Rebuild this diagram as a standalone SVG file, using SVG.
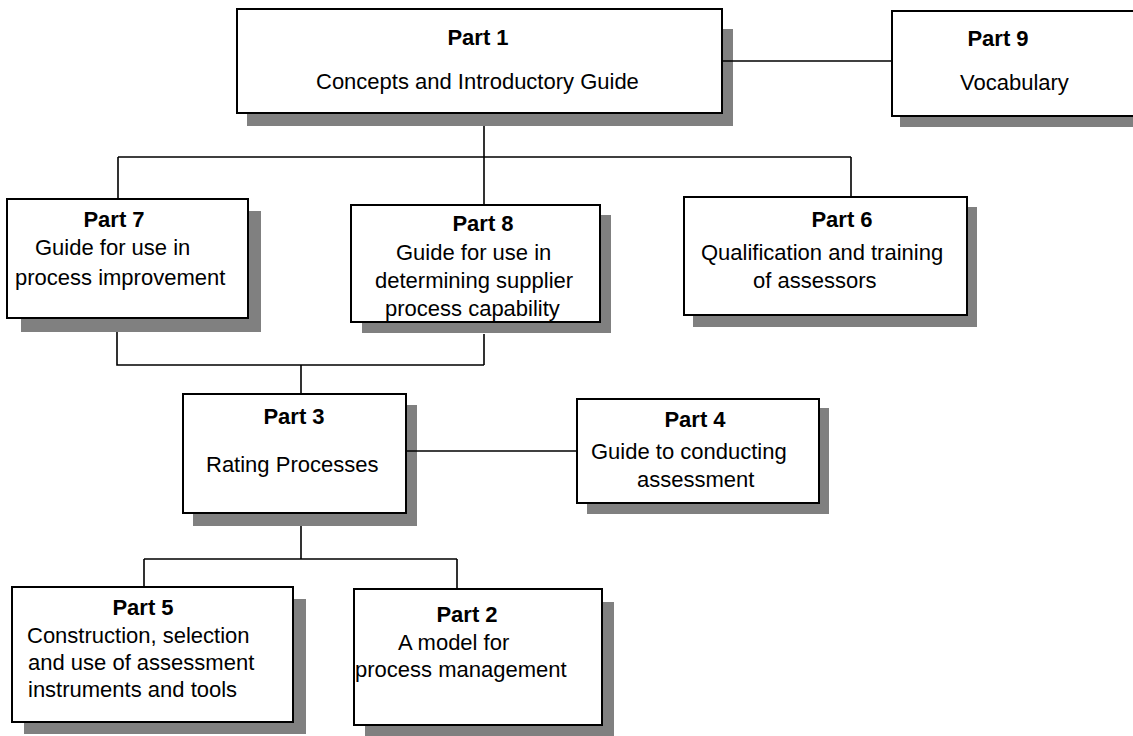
<svg xmlns="http://www.w3.org/2000/svg" width="1133" height="736" viewBox="0 0 1133 736">
<style>
.sh{fill:#808080;stroke:none}
.bx{fill:#fff;stroke:#000;stroke-width:2}
.t{font-family:"Liberation Sans",Arial,sans-serif;font-size:22px;fill:#000}
.b{font-weight:bold;text-anchor:middle}
.c{fill:none;stroke:#000;stroke-width:1.6}
</style>
<rect width="1133" height="736" fill="#fff"/>
<g id="shadows">
<rect class="sh" x="247" y="29" width="486" height="97"/>
<rect class="sh" x="900" y="24" width="260" height="103"/>
<rect class="sh" x="21" y="211" width="240" height="121"/>
<rect class="sh" x="362" y="215" width="249" height="118"/>
<rect class="sh" x="693" y="207" width="284" height="120"/>
<rect class="sh" x="193" y="405" width="224" height="121"/>
<rect class="sh" x="587" y="408" width="242" height="106"/>
<rect class="sh" x="24" y="599" width="282" height="135"/>
<rect class="sh" x="365" y="602" width="249" height="135"/>
</g>
<g id="connectors">
<path class="c" d="M722 61H892"/>
<path class="c" d="M484 126V157M118 157H851M118 157V199M484 157V205M851 157V197"/>
<path class="c" d="M117 332V365H484M484 334V365M301 365V394"/>
<path class="c" d="M406 451H577"/>
<path class="c" d="M301 526V559M144 559H457M144 559V587M457 559V589"/>
</g>
<g id="part1">
<rect class="bx" x="237" y="9" width="485" height="104"/>
<text class="t b" x="478" y="45">Part 1</text>
<text class="t" x="316" y="89">Concepts and Introductory Guide</text>
</g>
<g id="part9">
<rect class="bx" x="892" y="11" width="260" height="105"/>
<text class="t b" x="998" y="46">Part 9</text>
<text class="t" x="960" y="90">Vocabulary</text>
</g>
<g id="part7">
<rect class="bx" x="7" y="199" width="241" height="119"/>
<text class="t b" x="114" y="227">Part 7</text>
<text class="t" x="35" y="255">Guide for use in</text>
<text class="t" x="15" y="285">process improvement</text>
</g>
<g id="part8">
<rect class="bx" x="351" y="205" width="249" height="117"/>
<text class="t b" x="483" y="231">Part 8</text>
<text class="t" x="396" y="260">Guide for use in</text>
<text class="t" x="375" y="288">determining supplier</text>
<text class="t" x="385" y="316">process capability</text>
</g>
<g id="part6">
<rect class="bx" x="684" y="197" width="283" height="118"/>
<text class="t b" x="842" y="227">Part 6</text>
<text class="t" x="701" y="260">Qualification and training</text>
<text class="t" x="753" y="288">of assessors</text>
</g>
<g id="part3">
<rect class="bx" x="183" y="394" width="223" height="119"/>
<text class="t b" x="294" y="424">Part 3</text>
<text class="t" x="206" y="472">Rating Processes</text>
</g>
<g id="part4">
<rect class="bx" x="577" y="399" width="242" height="104"/>
<text class="t b" x="695" y="427">Part 4</text>
<text class="t" x="591" y="459">Guide to conducting</text>
<text class="t" x="637" y="487">assessment</text>
</g>
<g id="part5">
<rect class="bx" x="12" y="587" width="281" height="135"/>
<text class="t b" x="143" y="615">Part 5</text>
<text class="t" x="27" y="643">Construction, selection</text>
<text class="t" x="28" y="670">and use of assessment</text>
<text class="t" x="28" y="697">instruments and tools</text>
</g>
<g id="part2">
<rect class="bx" x="354" y="589" width="248" height="136"/>
<text class="t b" x="467" y="622">Part 2</text>
<text class="t" x="398" y="650">A model for</text>
<text class="t" x="355" y="677">process management</text>
</g>
</svg>
